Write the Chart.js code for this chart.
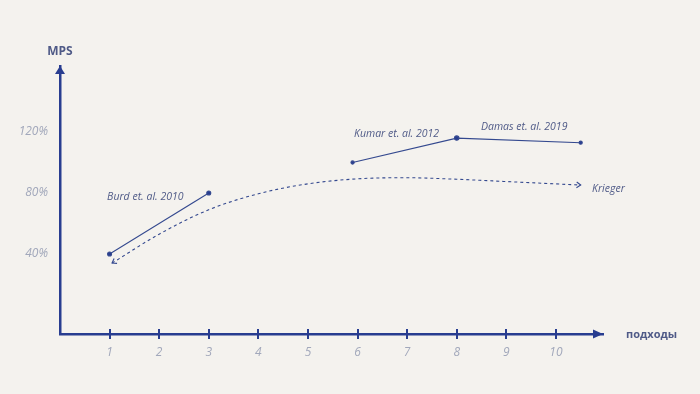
<!DOCTYPE html>
<html>
<head>
<meta charset="utf-8">
<script src="https://cdn.jsdelivr.net/npm/chart.js@4"></script>
<style>
  html, body { margin:0; padding:0; background:#f4f2ee; }
  #wrap { width:700px; height:394px; }
</style>
</head>
<body>
<div id="wrap"><canvas id="c" width="700" height="394"></canvas></div>
<script>
// data
const xTicks = [1,2,3,4,5,6,7,8,9,10];
const yTicks = [40,80,120];

const burdX = [1,3];
const burdY = [40,80];

const kumarX = [5.9,8,10.5];
const kumarY = [100,116,113];

const kriegerX = [1.05,2,3,4,5,6,7,8,9,10.5];
const kriegerY = [34,53,69,79.5,86,89.3,90,89,87.5,85.2];

const notes = ['Burd et. al. 2010','Kumar et. al. 2012','Damas et. al. 2019','Krieger'];
const noteX = [0.95,5.93,8.49,10.73];
const noteY = [77.4,118.5,123.5,82.8];

const AXIS = '#283d90';
const LINE = '#34498f';
const NOTE = '#4f5a87';
const TICK = '#a2a8bb';

function pts(xs, ys){ return xs.map((x,i)=>({x, y:ys[i]})); }

// arrows, tick marks, titles and notes
const extras = {
  id:'extras',
  afterDatasetsDraw(chart){
    const {ctx, chartArea:a, scales:{x, y}} = chart;
    ctx.save();
    // axis arrowheads
    ctx.fillStyle = AXIS;
    ctx.beginPath();
    ctx.moveTo(a.left, a.top); ctx.lineTo(a.left-5, a.top+8); ctx.lineTo(a.left+5, a.top+8);
    ctx.closePath(); ctx.fill();
    ctx.beginPath();
    ctx.moveTo(a.right, a.bottom); ctx.lineTo(a.right-10, a.bottom-4.5); ctx.lineTo(a.right-10, a.bottom+4.5);
    ctx.closePath(); ctx.fill();
    // tick marks crossing the x axis
    ctx.strokeStyle = AXIS; ctx.lineWidth = 2;
    xTicks.forEach(v=>{
      const px = Math.round(x.getPixelForValue(v));
      ctx.beginPath(); ctx.moveTo(px, a.bottom-5); ctx.lineTo(px, a.bottom+5); ctx.stroke();
    });
    // open arrowheads on dashed curve
    ctx.strokeStyle = LINE; ctx.lineWidth = 1.1;
    function chevron(px, py, ang){
      ctx.beginPath();
      ctx.moveTo(px + 5*Math.cos(ang+0.6), py + 5*Math.sin(ang+0.6));
      ctx.lineTo(px, py);
      ctx.lineTo(px + 5*Math.cos(ang-0.6), py + 5*Math.sin(ang-0.6));
      ctx.stroke();
    }
    const n = kriegerX.length;
    const sx = x.getPixelForValue(kriegerX[0]), sy = y.getPixelForValue(kriegerY[0]);
    const s2x = x.getPixelForValue(kriegerX[1]), s2y = y.getPixelForValue(kriegerY[1]);
    chevron(sx, sy, Math.atan2(s2y-sy, s2x-sx));
    const ex = x.getPixelForValue(kriegerX[n-1]), ey = y.getPixelForValue(kriegerY[n-1]);
    const e2x = x.getPixelForValue(kriegerX[n-2]), e2y = y.getPixelForValue(kriegerY[n-2]);
    chevron(ex, ey, Math.atan2(e2y-ey, e2x-ex));
    // notes
    ctx.fillStyle = NOTE;
    ctx.font = 'italic 10.5px "Open Sans"';
    ctx.textBaseline = 'middle'; ctx.textAlign = 'left';
    notes.forEach((t,i)=> ctx.fillText(t, x.getPixelForValue(noteX[i]), y.getPixelForValue(noteY[i])));
    // axis titles
    ctx.font = 'bold 12px "Open Sans"';
    ctx.textAlign = 'center';
    ctx.fillText('MPS', a.left, 52);
    ctx.font = 'bold 11px "Open Sans"';
    ctx.textAlign = 'left';
    ctx.fillText('подходы', a.right+23, a.bottom+1);
    ctx.restore();
  }
};

new Chart(document.getElementById('c'), {
  type:'scatter',
  data:{
    datasets:[
      { label:'Burd', data:pts(burdX,burdY), showLine:true, borderColor:LINE, backgroundColor:AXIS,
        borderWidth:1.1, pointRadius:2, pointHoverRadius:2 },
      { label:'Kumar / Damas', data:pts(kumarX,kumarY), showLine:true, borderColor:LINE, backgroundColor:AXIS,
        borderWidth:1.1, pointRadius:[1.6,2.2,1.6], pointHoverRadius:2 },
      { label:'Krieger', data:pts(kriegerX,kriegerY), showLine:true, borderColor:LINE,
        borderWidth:1.1, borderDash:[3,3], pointRadius:0, tension:0.4, cubicInterpolationMode:'monotone' }
    ]
  },
  options:{
    responsive:false, animation:false, devicePixelRatio:1,
    layout:{ padding:{ top:66, right:97, left:0, bottom:0 } },
    plugins:{ legend:{display:false}, tooltip:{enabled:false} },
    scales:{
      x:{
        type:'linear', min:0, max:10.95,
        afterBuildTicks:s=>{ s.ticks = xTicks.map(v=>({value:v})); },
        afterFit:s=>{ s.height = 60; },
        grid:{ display:false, drawTicks:false },
        border:{ display:true, color:AXIS, width:2.5 },
        ticks:{ color:TICK, padding:11, font:{ family:'"Open Sans"', style:'italic', size:12 } }
      },
      y:{
        type:'linear', min:-12.5, max:163.3,
        afterBuildTicks:s=>{ s.ticks = yTicks.map(v=>({value:v})); },
        afterFit:s=>{ s.width = 60; },
        grid:{ display:false, drawTicks:false },
        border:{ display:true, color:AXIS, width:2.5 },
        ticks:{ color:TICK, padding:12, callback:v=>v+'%',
                font:{ family:'"Open Sans"', style:'italic', size:12 } }
      }
    }
  },
  plugins:[extras]
});
</script>
</body>
</html>
